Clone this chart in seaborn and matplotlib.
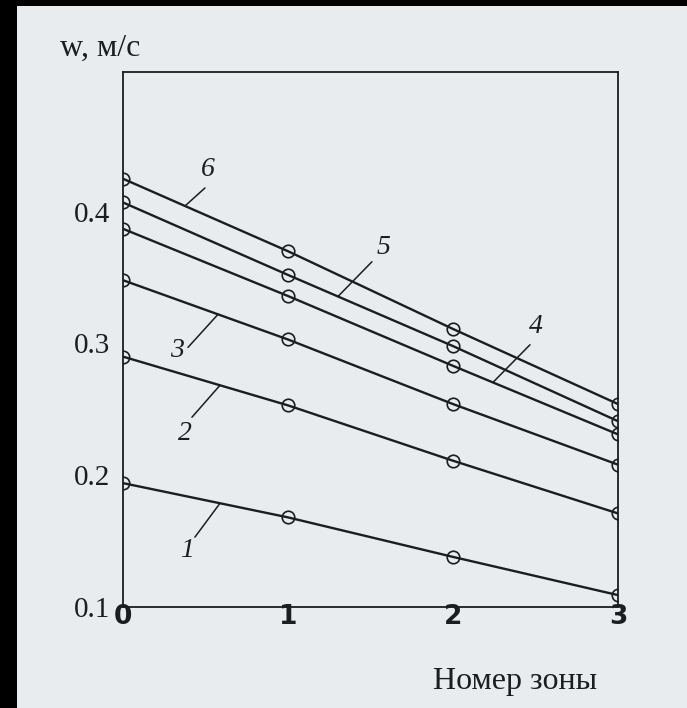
import numpy as np
import pandas as pd
import matplotlib
matplotlib.use("Agg")
import matplotlib.pyplot as plt
import seaborn as sns

# ---- data ----
zones = [0, 1, 2, 3]
curve_1 = [0.194, 0.168, 0.138, 0.109]
curve_2 = [0.290, 0.253, 0.211, 0.171]
curve_3 = [0.348, 0.303, 0.254, 0.208]
curve_4 = [0.387, 0.336, 0.283, 0.231]
curve_5 = [0.407, 0.352, 0.298, 0.241]
curve_6 = [0.425, 0.370, 0.311, 0.254]
curve_names = ["1", "2", "3", "4", "5", "6"]
y_ticks = [0.1, 0.2, 0.3, 0.4]
y_tick_labels = ["0.1", "0.2", "0.3", "0.4"]
x_tick_labels = ["0", "1", "2", "3"]
y_label = "w, м/с"
x_label = "Номер зоны"

series = [curve_1, curve_2, curve_3, curve_4, curve_5, curve_6]
df = pd.DataFrame({
    "zone": np.tile(zones, len(series)),
    "w": np.concatenate(series),
    "curve": np.repeat(curve_names, len(zones)),
})

# ---- style ----
sns.set_style("white")
plt.rcParams["font.family"] = ["Liberation Serif", "DejaVu Serif"]
paper = "#e8ecef"
ink = "#1b1d20"

fig = plt.figure(figsize=(6.87, 7.08), dpi=100, facecolor=paper)
ax = fig.add_axes([0.179, 0.1427, 0.7205, 0.7556])
ax.set_facecolor(paper)

sns.lineplot(data=df, x="zone", y="w", hue="curve",
             palette=[ink] * len(series), legend=False, ax=ax,
             marker="o", markersize=9, markerfacecolor="none",
             markeredgecolor=ink, markeredgewidth=1.2,
             linewidth=1.7, estimator=None)

ax.set_xlim(0, 3)
ax.set_ylim(0.1, 0.506)
ax.set_xticks(zones)
ax.set_xticklabels(x_tick_labels, fontsize=19, fontweight="bold",
                   family=["DejaVu Sans"])
ax.set_yticks(y_ticks)
ax.set_yticklabels(y_tick_labels, fontsize=21)
ax.tick_params(axis="both", direction="in", length=6, width=1.1,
               colors=ink, labelcolor=ink)
ax.tick_params(axis="y", pad=9)
ax.tick_params(axis="x", pad=-2)
ax.set_xlabel("")
ax.set_ylabel("")
for s in ax.spines.values():
    s.set_visible(True)
    s.set_color(ink)
    s.set_linewidth(1.3)

# ---- curve labels with leader lines ----
labels = {
    # curve index: (leader start x, leader end (x, y), text (x, y))
    6: (0.376, (0.497, 0.418), (0.515, 0.432)),
    5: (1.303, (1.509, 0.362), (1.576, 0.373)),
    4: (2.242, (2.467, 0.299), (2.503, 0.313)),
    3: (0.576, (0.394, 0.297), (0.327, 0.295)),
    2: (0.588, (0.418, 0.244), (0.376, 0.232)),
    1: (0.588, (0.436, 0.153), (0.388, 0.143)),
}
for idx, (xs, (xe, ye), (xt, yt)) in labels.items():
    ys = np.interp(xs, zones, series[idx - 1])
    ax.plot([xs, xe], [ys, ye], color=ink, lw=1.1)
    ax.text(xt, yt, curve_names[idx - 1], fontsize=20, style="italic",
            color=ink, ha="center", va="center")

fig.text(0.087, 0.932, y_label, fontsize=23, color=ink, ha="left", va="center")
fig.text(0.869, 0.038, x_label, fontsize=23, color=ink, ha="right", va="center")

# dark borders of the photographed page
fig.patches.append(plt.Rectangle((0, 0), 17 / 687, 1, transform=fig.transFigure,
                                 facecolor="black", edgecolor="none", zorder=-1))
fig.patches.append(plt.Rectangle((0, 1 - 6 / 708), 1, 6 / 708, transform=fig.transFigure,
                                 facecolor="black", edgecolor="none", zorder=-1))

fig.savefig("out.png", dpi=100, facecolor=paper)
